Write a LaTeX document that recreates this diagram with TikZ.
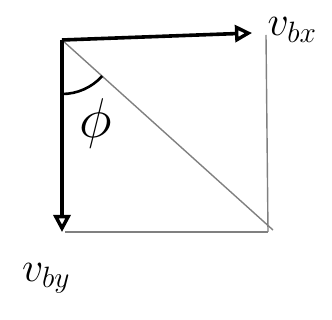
\documentclass[tikz,border=0pt]{standalone}
\usepackage{fix-cm}
\usetikzlibrary{arrows.meta}
\begin{document}
\begin{tikzpicture}[x=1pt,y=-1pt,
  vec/.style={line width=3.6pt,black,-{Triangle[open,length=17pt,width=17pt,line width=3.4pt]}},
  thin/.style={line width=1.4pt,black!50},
  lbl/.style={inner sep=0pt,font=\fontsize{42}{46}\selectfont}]
\useasboundingbox (0,0) rectangle (332,320);
\coordinate (O) at (62,40);
\coordinate (X) at (252,33);
\coordinate (Y) at (62,232);
\coordinate (TR) at (266,35);
\coordinate (BR) at (268,232);
\coordinate (BL) at (65,232);
\coordinate (D) at (273,230);
\draw[thin] (TR) -- (BR);
\draw[thin] (BL) -- (BR);
\draw[thin] (O) -- (D);
\draw[vec] (O) -- (X);
\draw[vec] (O) -- (Y);
\draw[line width=2.6pt] (62,94) arc[start angle=90,end angle=42,radius=54];
\node[lbl] (vbx) at (292,30) {$v_{bx}$};
\node[lbl] (vby) at (46,278) {$v_{by}$};
\node[lbl,font=\fontsize{56}{60}\selectfont] (phi) at (96,124) {$\phi$};
\end{tikzpicture}
\end{document}
